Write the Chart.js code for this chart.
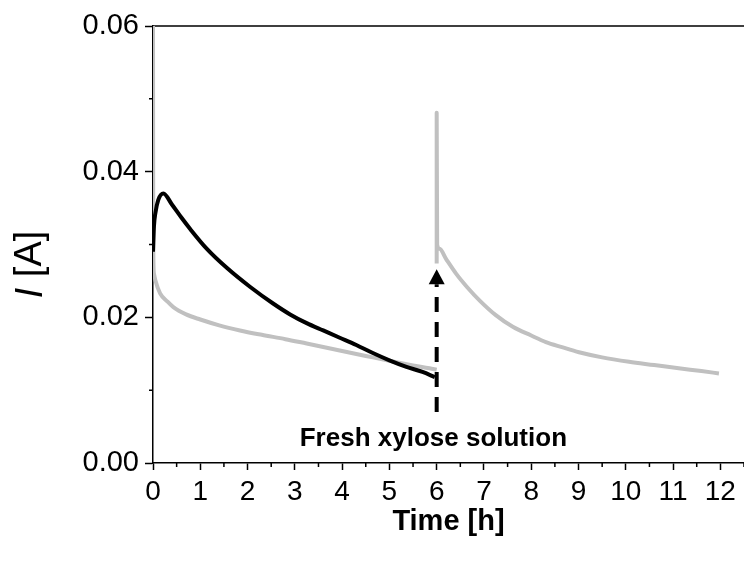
<!DOCTYPE html>
<html><head><meta charset="utf-8">
<script src="https://cdn.jsdelivr.net/npm/chart.js@4.4.1/dist/chart.umd.min.js"></script>
<style>html,body{margin:0;padding:0;background:#fff}canvas{display:block}</style>
</head><body>
<canvas id="c" width="744" height="561"></canvas>
<script>
// ---- data ----
const timeBlack    = [0, 0.02, 0.05, 0.11, 0.22, 0.4, 0.6, 0.79, 1.14, 1.56, 2.05, 2.54, 2.9, 3.25, 3.6, 3.95, 4.3, 4.65, 5.0, 5.36, 5.7, 5.96];
const currentBlack = [0.0290, 0.0325, 0.0343, 0.0361, 0.0370, 0.0355, 0.0337, 0.0321, 0.0294, 0.0268, 0.0242, 0.0219, 0.0204, 0.0192, 0.0182, 0.0172, 0.0162, 0.0151, 0.0141, 0.0132, 0.0125, 0.0118];

const timeGrayA    = [0, 0.005, 0.02, 0.05, 0.15, 0.3, 0.43, 0.7, 1.0, 1.4, 1.84, 2.3, 2.8, 3.25, 3.7, 4.2, 4.65, 5.1, 5.5, 5.85, 6.0];
const currentGrayA = [0.0605, 0.0300, 0.0260, 0.0251, 0.0233, 0.0222, 0.0214, 0.0204, 0.0197, 0.0189, 0.0182, 0.0176, 0.0170, 0.0164, 0.0158, 0.0151, 0.0145, 0.0139, 0.0134, 0.0130, 0.0128];

const timeGrayB    = [6.0, 6.0, 6.01, 6.06, 6.2, 6.41, 6.65, 6.91, 7.25, 7.61, 8.0, 8.31, 8.65, 9.01, 9.5, 10.07, 10.6, 11.12, 11.6, 11.97];
const currentGrayB = [0.0274, 0.0481, 0.0300, 0.0294, 0.0280, 0.0260, 0.0241, 0.0223, 0.0203, 0.0187, 0.0175, 0.0166, 0.0159, 0.0152, 0.0145, 0.0139, 0.01345, 0.0130, 0.01262, 0.0123];

const xTickValues      = [0,1,2,3,4,5,6,7,8,9,10,11,12];
const xMinorTickValues = [0.5,1.5,2.5,3.5,4.5,5.5,6.5,7.5,8.5,9.5,10.5,11.5,12.5];
const yTickValues      = [0, 0.02, 0.04, 0.06];
const yMinorTickValues = [0.01, 0.03, 0.05];

const xAxisTitle = 'Time [h]';
const yAxisSymbol = 'I';
const yAxisUnit = ' [A]';
const annotationText = 'Fresh xylose solution';
const arrowTime = 6;
const arrowFromCurrent = 0.0070;
const arrowToCurrent = 0.0266;
const annotationTime = 5.93;
const annotationCurrent = 0.0024;

// ---- build ----
const toPts = (xs, ys) => xs.map((x, i) => ({x: x, y: ys[i]}));
const FONT = '"Liberation Sans", Arial, sans-serif';
const GRAY = 'rgb(192,192,192)';

const extras = {
  id: 'extras',
  beforeDatasetsDraw(chart) {
    const {ctx, chartArea: a, scales: {x, y}} = chart;
    ctx.save();
    ctx.strokeStyle = '#000';
    ctx.lineWidth = 1.5;
    ctx.beginPath();
    ctx.moveTo(a.left, a.top); ctx.lineTo(a.right, a.top);
    xMinorTickValues.forEach(v => { const p = x.getPixelForValue(v); ctx.moveTo(p, a.bottom); ctx.lineTo(p, a.bottom + 4); });
    yMinorTickValues.forEach(v => { const p = y.getPixelForValue(v); ctx.moveTo(a.left, p); ctx.lineTo(a.left - 4, p); });
    ctx.stroke();
    ctx.restore();
  },
  afterDatasetsDraw(chart) {
    const {ctx, chartArea: a, scales: {x, y}} = chart;
    ctx.save();
    // arrow
    const px = x.getPixelForValue(arrowTime);
    const yb = y.getPixelForValue(arrowFromCurrent);
    const yt = y.getPixelForValue(arrowToCurrent);
    const headH = 15, headW = 16;
    ctx.strokeStyle = '#000';
    ctx.lineWidth = 4;
    ctx.setLineDash([15, 10]);
    ctx.beginPath();
    ctx.moveTo(px, yb); ctx.lineTo(px, yt + headH);
    ctx.stroke();
    ctx.setLineDash([]);
    ctx.fillStyle = '#000';
    ctx.beginPath();
    ctx.moveTo(px, yt); ctx.lineTo(px - headW/2, yt + headH); ctx.lineTo(px + headW/2, yt + headH); ctx.closePath();
    ctx.fill();
    // annotation text
    ctx.font = 'bold 26px ' + FONT;
    ctx.textAlign = 'center';
    ctx.textBaseline = 'alphabetic';
    ctx.fillText(annotationText, x.getPixelForValue(annotationTime), y.getPixelForValue(annotationCurrent));
    // y axis title with italic symbol
    const cx = 31, cy = (a.top + a.bottom) / 2 + 20;
    ctx.translate(cx, cy);
    ctx.rotate(-Math.PI / 2);
    ctx.textAlign = 'left';
    ctx.textBaseline = 'middle';
    ctx.font = 'italic 38px ' + FONT;
    const w1 = ctx.measureText(yAxisSymbol).width;
    ctx.font = '38px ' + FONT;
    const w2 = ctx.measureText(yAxisUnit).width;
    const s = -(w1 + w2) / 2;
    ctx.font = 'italic 38px ' + FONT;
    ctx.fillText(yAxisSymbol, s, 0);
    ctx.font = '38px ' + FONT;
    ctx.fillText(yAxisUnit, s + w1, 0);
    ctx.restore();
  }
};

new Chart(document.getElementById('c'), {
  type: 'line',
  data: {
    datasets: [
      {data: toPts(timeBlack, currentBlack), borderColor: '#000', borderWidth: 4, order: 0},
      {data: toPts(timeGrayA, currentGrayA), borderColor: GRAY, borderWidth: 4, order: 1},
      {data: toPts(timeGrayB, currentGrayB), borderColor: GRAY, borderWidth: 4, order: 1}
    ]
  },
  options: {
    responsive: false,
    animation: false,
    devicePixelRatio: 1,
    parsing: false,
    elements: {point: {radius: 0}, line: {borderCapStyle: 'butt', borderJoinStyle: 'round', cubicInterpolationMode: 'monotone'}},
    layout: {padding: {top: 26, right: 0, left: 0, bottom: 0}},
    plugins: {legend: {display: false}, tooltip: {enabled: false}},
    scales: {
      x: {
        type: 'linear', min: 0, max: 12.5,
        afterBuildTicks: s => { s.ticks = xTickValues.map(v => ({value: v})); },
        afterFit: s => { s.height = 98; },
        border: {display: true, color: '#000', width: 1.5},
        grid: {drawOnChartArea: false, drawTicks: true, tickLength: 7, tickColor: '#000', tickWidth: 1.5},
        ticks: {color: '#000', font: {family: FONT, size: 28}, padding: 5, maxRotation: 0, autoSkip: false, callback: v => String(v)},
        title: {display: true, text: xAxisTitle, color: '#000', font: {family: FONT, size: 29, weight: 'bold'}, padding: {top: 0, bottom: 22}}
      },
      y: {
        type: 'linear', min: 0, max: 0.06,
        afterBuildTicks: s => { s.ticks = yTickValues.map(v => ({value: v})); },
        afterFit: s => { s.width = 153; },
        border: {display: true, color: '#000', width: 1.5},
        grid: {drawOnChartArea: false, drawTicks: true, tickLength: 8, tickColor: '#000', tickWidth: 1.5},
        ticks: {color: '#000', font: {family: FONT, size: 29}, padding: 6, callback: v => Number(v).toFixed(2)}
      }
    }
  },
  plugins: [extras]
});
</script>
</body></html>
